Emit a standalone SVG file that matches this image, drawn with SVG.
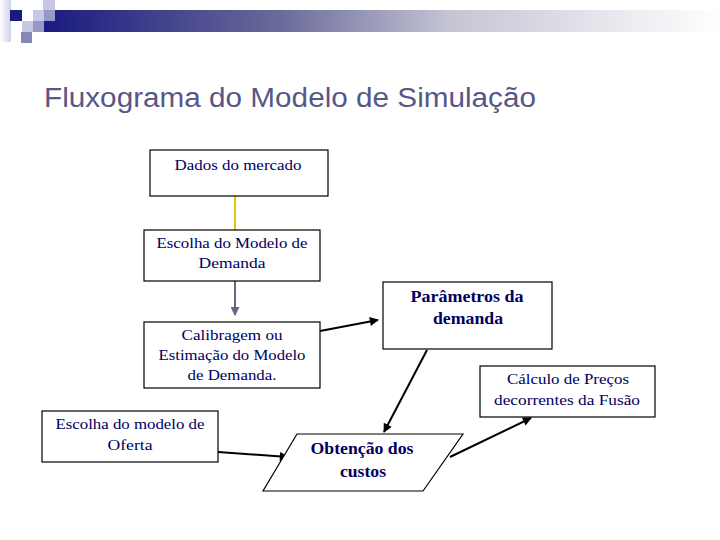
<svg xmlns="http://www.w3.org/2000/svg" width="720" height="540" viewBox="0 0 720 540">
<defs>
<linearGradient id="bar" x1="0" y1="0" x2="1" y2="0">
<stop offset="0" stop-color="#1a1a80"/>
<stop offset="0.35" stop-color="#6a6a9a"/>
<stop offset="0.6" stop-color="#c4c4d4"/>
<stop offset="1" stop-color="#ffffff"/>
</linearGradient>
<linearGradient id="fadeL" x1="0" y1="0" x2="1" y2="0">
<stop offset="0" stop-color="#ffffff"/>
<stop offset="1" stop-color="#d0d0ea"/>
</linearGradient>
<marker id="ah" viewBox="0 0 10 10" refX="9" refY="5" markerWidth="10" markerHeight="9" markerUnits="userSpaceOnUse" orient="auto">
<path d="M0,0 L10,5 L0,10 z" fill="#000"/>
</marker>
<marker id="ahg" viewBox="0 0 10 10" refX="9" refY="5" markerWidth="10" markerHeight="9" markerUnits="userSpaceOnUse" orient="auto">
<path d="M0,0 L10,5 L0,10 z" fill="#666688"/>
</marker>
</defs>
<style>
.box{fill:#fff;stroke:#000;stroke-width:1.2}
.t{font-family:"Liberation Serif","Times New Roman",serif;font-size:15px;fill:#000060;text-anchor:middle}
.b{font-weight:bold;font-size:16px}
.title{font-family:"Liberation Sans",Arial,sans-serif;font-size:27px;fill:#575787}
.c{fill:none;stroke:#000;stroke-width:2}
</style>
<rect width="720" height="540" fill="#fff"/>
<g id="banner">
<rect x="0" y="0" width="11" height="42" fill="url(#fadeL)"/>
<rect x="43" y="10" width="677" height="22" fill="url(#bar)"/>
<rect x="10" y="10" width="12" height="11" fill="#1a1a80"/>
<rect x="22" y="21" width="11" height="11" fill="#c8c8e6"/>
<rect x="33" y="10" width="11" height="11" fill="#c8c8e6"/>
<rect x="43" y="0" width="12" height="10" fill="#c8c8e6"/>
<rect x="44" y="10" width="11" height="11" fill="#9898c8"/>
<rect x="33" y="21" width="11" height="11" fill="#9898c8"/>
<rect x="21" y="32" width="11" height="11" fill="#8686b8"/>
</g>
<text class="title" x="44" y="107" textLength="492" lengthAdjust="spacingAndGlyphs">Fluxograma do Modelo de Simulação</text>
<g id="connectors">
<line x1="235" y1="196" x2="235" y2="230" stroke="#e8c410" stroke-width="2"/>
<line x1="235" y1="281" x2="235" y2="315" stroke="#666688" stroke-width="2" marker-end="url(#ahg)"/>
<line class="c" x1="320" y1="331" x2="378" y2="320" marker-end="url(#ah)"/>
<line class="c" x1="427" y1="350" x2="384" y2="432" marker-end="url(#ah)"/>
<line class="c" x1="218" y1="452" x2="288" y2="457" marker-end="url(#ah)"/>
<line class="c" x1="450" y1="457" x2="531" y2="418" marker-end="url(#ah)"/>
</g>
<g id="dados">
<rect class="box" x="150" y="150" width="178" height="46"/>
<text class="t" x="238" y="170" textLength="127" lengthAdjust="spacingAndGlyphs">Dados do mercado</text>
</g>
<g id="escolha-demanda">
<rect class="box" x="144" y="230" width="176" height="51"/>
<text class="t" x="232" y="248" textLength="151" lengthAdjust="spacingAndGlyphs">Escolha do Modelo de</text>
<text class="t" x="232" y="268" textLength="67" lengthAdjust="spacingAndGlyphs">Demanda</text>
</g>
<g id="calibragem">
<rect class="box" x="144" y="322" width="176" height="66"/>
<text class="t" x="232" y="340" textLength="101" lengthAdjust="spacingAndGlyphs">Calibragem ou</text>
<text class="t" x="232" y="360" textLength="147" lengthAdjust="spacingAndGlyphs">Estimação do Modelo</text>
<text class="t" x="232" y="380" textLength="89" lengthAdjust="spacingAndGlyphs">de Demanda.</text>
</g>
<g id="parametros">
<rect class="box" x="383" y="282" width="169" height="67"/>
<text class="t b" x="467" y="302" textLength="113" lengthAdjust="spacingAndGlyphs">Parâmetros da</text>
<text class="t b" x="468" y="324" textLength="70" lengthAdjust="spacingAndGlyphs">demanda</text>
</g>
<g id="calculo">
<rect class="box" x="480" y="366" width="175" height="51"/>
<text class="t" x="568" y="384" textLength="122" lengthAdjust="spacingAndGlyphs">Cálculo de Preços</text>
<text class="t" x="567" y="405" textLength="146" lengthAdjust="spacingAndGlyphs">decorrentes da Fusão</text>
</g>
<g id="oferta">
<rect class="box" x="42" y="411" width="176" height="51"/>
<text class="t" x="130" y="429" textLength="149" lengthAdjust="spacingAndGlyphs">Escolha do modelo de</text>
<text class="t" x="130" y="450" textLength="45" lengthAdjust="spacingAndGlyphs">Oferta</text>
</g>
<g id="obtencao">
<polygon class="box" points="297,434 463,434 423,491 263,491"/>
<text class="t b" x="362" y="454" textLength="103" lengthAdjust="spacingAndGlyphs">Obtenção dos</text>
<text class="t b" x="363" y="477" textLength="46" lengthAdjust="spacingAndGlyphs">custos</text>
</g>
</svg>
